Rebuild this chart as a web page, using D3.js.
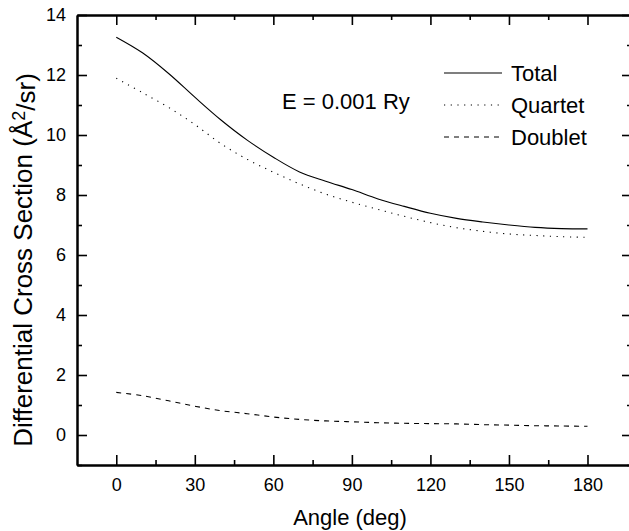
<!DOCTYPE html>
<html lang="en">
<head>
<meta charset="UTF-8"/>
<title>Differential Cross Section</title>
<script src="https://d3js.org/d3.v7.min.js"></script>
<style>
    body { margin: 0; background: #fff; }
    text { font-family: "Liberation Sans", Arial, sans-serif; fill: #000; }
    .axis path { stroke: #000; stroke-width: 2; }
    .axis line { stroke: #000; stroke-width: 1.6; }
    .curve { fill: none; stroke: #000; stroke-width: 1.1; }
</style>
</head>
<body>
<div id="chart"></div>
<script>
    // data
    var angles   = [0, 10, 20, 30, 40, 50, 60, 70, 80, 90, 100, 110, 120, 130, 140, 150, 160, 170, 180];
    var total    = [13.26, 12.74, 12.05, 11.26, 10.5, 9.83, 9.26, 8.77, 8.46, 8.18, 7.87, 7.62, 7.39, 7.22, 7.10, 7.0, 6.92, 6.88, 6.87];
    var quartet  = [11.89, 11.41, 10.92, 10.35, 9.71, 9.19, 8.76, 8.37, 8.03, 7.76, 7.52, 7.29, 7.08, 6.91, 6.79, 6.70, 6.65, 6.61, 6.59];
    var doublet  = [1.42, 1.31, 1.14, 0.96, 0.81, 0.71, 0.60, 0.52, 0.47, 0.44, 0.41, 0.39, 0.38, 0.37, 0.345, 0.33, 0.31, 0.30, 0.29];
    var xTicks   = [0, 30, 60, 90, 120, 150, 180];
    var xMinor   = [15, 45, 75, 105, 135, 165];
    var yTicks   = [0, 2, 4, 6, 8, 10, 12, 14];
    var yMinor   = [-1, 1, 3, 5, 7, 9, 11, 13];
    var seriesNames = ["Total", "Quartet", "Doublet"];
    var dashes  = ["none", "1.2,5.5", "5,5"];

    var w = 629, h = 531;
    var m = {l: 77, r: 632, t: 15, b: 465};

    var svg = d3.select("#chart").append("svg")
        .attr("width", w).attr("height", h);

    var x = d3.scaleLinear().domain([-15, 197]).range([m.l, m.r]);
    var y = d3.scaleLinear().domain([-1, 14]).range([m.b, m.t]);

    // major + minor ticks on all four sides, pointing inward
    function addAxis(axisFn, scale, vals, size, transform, labels) {
        var a = axisFn(scale).tickValues(vals).tickSizeInner(size).tickSizeOuter(0);
        if (labels) a.tickPadding(labels); else a.tickFormat("");
        var g = svg.append("g").attr("class", "axis")
            .attr("transform", transform).call(a);
        if (labels) g.selectAll("text").style("font-size", "18px");
        return g;
    }
    addAxis(d3.axisBottom, x, xTicks, -10, `translate(0,${m.b})`, 13);
    addAxis(d3.axisBottom, x, xMinor, -5, `translate(0,${m.b})`, 0);
    addAxis(d3.axisTop, x, xTicks, -10, `translate(0,${m.t})`, 0);
    addAxis(d3.axisTop, x, xMinor, -5, `translate(0,${m.t})`, 0);
    addAxis(d3.axisLeft, y, yTicks, -10, `translate(${m.l},0)`, 11);
    addAxis(d3.axisLeft, y, yMinor, -5, `translate(${m.l},0)`, 0);
    addAxis(d3.axisRight, y, yTicks, -10, `translate(${m.r},0)`, 0);
    addAxis(d3.axisRight, y, yMinor, -5, `translate(${m.r},0)`, 0);

    var line = d3.line()
        .x((d, i) => x(angles[i]))
        .y(d => y(d))
        .curve(d3.curveCatmullRom);

    [total, quartet, doublet].forEach(function(s, i) {
        svg.append("path")
            .datum(s)
            .attr("class", "curve")
            .attr("stroke-dasharray", dashes[i])
            .attr("d", line);
    });

    // legend
    seriesNames.forEach(function(name, i) {
        var ly = 73 + i * 32;
        svg.append("line")
            .attr("x1", 444).attr("x2", 502)
            .attr("y1", ly).attr("y2", ly)
            .attr("stroke", "#000").attr("stroke-width", 1.1)
            .attr("stroke-dasharray", dashes[i]);
        svg.append("text")
            .attr("x", 511).attr("y", ly)
            .attr("dy", "0.36em")
            .style("font-size", "22px")
            .text(name);
    });

    svg.append("text")
        .attr("x", 282).attr("y", 101).attr("dy", "0.36em")
        .style("font-size", "22px")
        .text("E = 0.001 Ry");

    svg.append("text")
        .attr("x", 350).attr("y", 525)
        .attr("text-anchor", "middle")
        .style("font-size", "22px")
        .text("Angle (deg)");

    var yt = svg.append("text")
        .attr("transform", "translate(32,260) rotate(-90)")
        .attr("text-anchor", "middle")
        .style("font-size", "26px");
    yt.append("tspan").text("Differential Cross Section (Å");
    yt.append("tspan").attr("dy", "-0.4em").style("font-size", "18px").text("2");
    yt.append("tspan").attr("dy", "0.4em").text("/sr)");
</script>
</body>
</html>
